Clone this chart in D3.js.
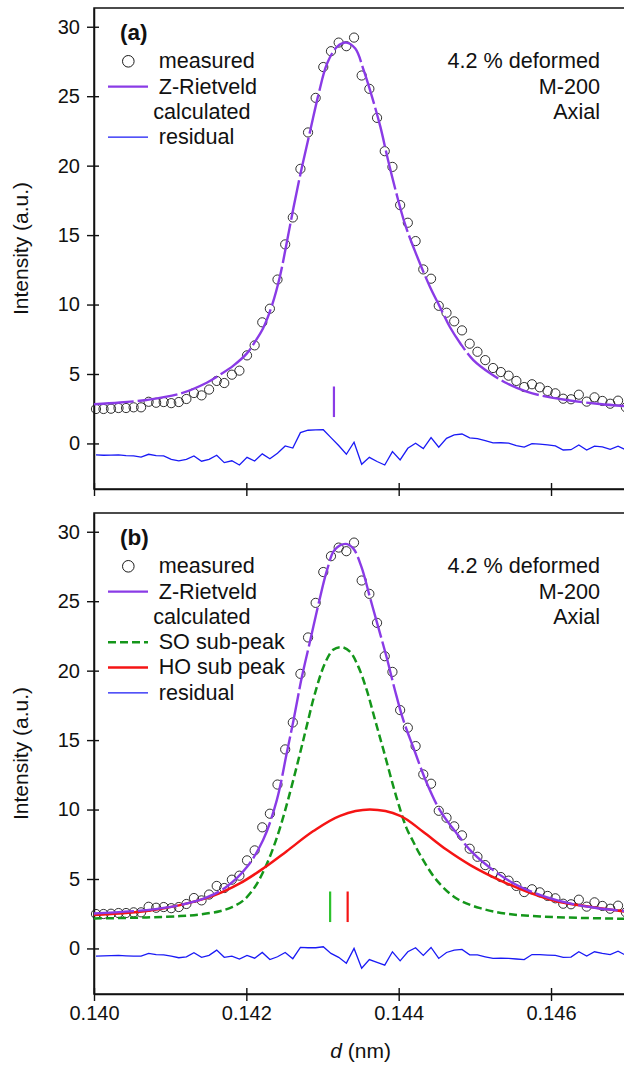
<!DOCTYPE html>
<html>
<head>
<meta charset="utf-8">
<script src="https://cdn.jsdelivr.net/npm/d3@7"></script>
<style>
  html, body { margin: 0; padding: 0; background: #fff; }
  svg { display: block; font-family: "Liberation Sans", Arial, Helvetica, sans-serif; }
</style>
</head>
<body>
<svg id="chart" width="624" height="1067"></svg>
<script>
// ---- Data -------------------------------------------------------------
// d-spacing (nm) of each measured time-of-flight bin
const dGrid = [
  0.140026, 0.140125, 0.140223, 0.140322, 0.140421, 0.140520, 0.140618, 0.140717, 0.140816, 0.140915,
  0.141014, 0.141113, 0.141213, 0.141312, 0.141412, 0.141511, 0.141611, 0.141710, 0.141810, 0.141909,
  0.142009, 0.142109, 0.142209, 0.142309, 0.142409, 0.142510, 0.142610, 0.142710, 0.142810, 0.142910,
  0.143010, 0.143111, 0.143212, 0.143313, 0.143414, 0.143514, 0.143615, 0.143716, 0.143817, 0.143918,
  0.144019, 0.144120, 0.144222, 0.144323, 0.144425, 0.144526, 0.144628, 0.144729, 0.144831, 0.144932,
  0.145034, 0.145136, 0.145239, 0.145341, 0.145443, 0.145545, 0.145648, 0.145750, 0.145852, 0.145955,
  0.146057, 0.146160, 0.146262, 0.146365, 0.146468, 0.146571, 0.146674, 0.146777, 0.146880, 0.146983
];

// measured intensity (a.u.)
const measured = [
  2.48, 2.48, 2.50, 2.55, 2.55, 2.60, 2.60, 3.00, 2.93, 2.98,
  2.90, 2.98, 3.20, 3.63, 3.46, 3.88, 4.50, 4.35, 4.95, 5.24,
  6.34, 7.06, 8.72, 9.70, 11.80, 14.33, 16.27, 19.77, 22.39, 24.88,
  27.10, 28.24, 28.86, 28.60, 29.22, 26.49, 25.53, 23.44, 21.04, 19.91,
  17.16, 15.89, 14.57, 12.53, 11.86, 9.91, 9.41, 8.79, 8.14, 7.18,
  6.60, 6.00, 5.43, 5.14, 4.88, 4.50, 4.06, 4.26, 4.04, 3.78,
  3.61, 3.22, 3.18, 3.51, 3.01, 3.32, 3.06, 2.86, 3.08, 2.60
];

// residual of the single-peak fit (a)
const residualA = [
  -0.83, -0.85, -0.84, -0.83, -0.88, -0.90, -0.98, -0.78, -0.88, -0.90,
  -1.15, -1.25, -1.15, -0.90, -1.28, -1.15, -0.85, -1.38, -1.25, -1.55,
  -1.00, -1.27, -0.75, -1.10, -0.70, -0.18, -0.33, 0.78, 0.95, 0.98,
  0.99, 0.42, -0.15, -0.78, 0.09, -1.50, -1.00, -1.30, -1.55, -0.59,
  -1.19, -0.35, 0.01, -0.37, 0.42, -0.27, 0.37, 0.61, 0.68, 0.40,
  0.35, 0.20, 0.04, 0.05, 0.02, -0.15, -0.27, -0.01, -0.05, -0.10,
  -0.18, -0.47, -0.45, -0.11, -0.47, -0.20, -0.25, -0.42, -0.20, -0.47
];

// residual of the two-sub-peak fit (b)
const residualB = [
  -0.55, -0.53, -0.52, -0.50, -0.53, -0.55, -0.55, -0.36, -0.45, -0.47,
  -0.55, -0.67, -0.60, -0.31, -0.64, -0.50, -0.12, -0.64, -0.55, -0.77,
  -0.50, -0.70, -0.29, -0.80, -0.60, -0.29, -0.74, 0.07, 0.05, 0.05,
  0.12, -0.36, -0.64, -1.06, 0.00, -1.43, -0.80, -1.00, -1.20, -0.24,
  -0.89, -0.24, 0.05, -0.50, 0.07, -0.72, -0.29, -0.12, -0.07, -0.46,
  -0.47, -0.60, -0.72, -0.70, -0.72, -0.76, -0.80, -0.44, -0.45, -0.48,
  -0.50, -0.64, -0.62, -0.24, -0.55, -0.24, -0.35, -0.44, -0.20, -0.50
];

// Z-Rietveld calculated profile, single peak (a)
const calcDA = [
  0.14000, 0.14034, 0.14069, 0.14113, 0.14148, 0.14165, 0.14183, 0.14201, 0.14211, 0.14222,
  0.14234, 0.14244, 0.14252, 0.14262, 0.14273, 0.14284, 0.14295, 0.14306, 0.14319, 0.14331,
  0.14343, 0.14354, 0.14365, 0.14376, 0.14386, 0.14397, 0.14408, 0.14421, 0.14441, 0.14454,
  0.14467, 0.14481, 0.14498, 0.14520, 0.14542, 0.14568, 0.14594, 0.14629, 0.14664, 0.14700
];
const calcA = [
  2.82, 2.95, 3.13, 3.58, 4.37, 4.93, 5.60, 6.50, 7.30, 8.30,
  10.00, 12.00, 14.16, 17.00, 19.90, 22.55, 25.19, 27.35, 28.55, 28.86,
  28.43, 26.87, 24.95, 22.79, 20.40, 18.00, 15.84, 13.90, 11.28, 9.84,
  8.40, 7.20, 6.00, 5.05, 4.33, 3.73, 3.37, 3.06, 2.84, 2.68
];

// Z-Rietveld calculated profile, two sub-peaks (b)
const calcDB = [
  0.14000, 0.14069, 0.14113, 0.14148, 0.14174, 0.14201, 0.14222, 0.14240, 0.14253, 0.14262,
  0.14273, 0.14284, 0.14295, 0.14306, 0.14316, 0.14330, 0.14340, 0.14351, 0.14362, 0.14373,
  0.14384, 0.14395, 0.14406, 0.14419, 0.14437, 0.14454, 0.14476, 0.14498, 0.14524, 0.14551,
  0.14586, 0.14629, 0.14664, 0.14700
];
const calcB = [
  2.52, 2.76, 3.12, 3.67, 4.44, 5.88, 7.80, 10.68, 14.05, 16.45,
  19.57, 22.20, 24.86, 27.25, 28.70, 29.13, 28.82, 27.49, 25.33, 23.17,
  21.00, 18.61, 16.45, 14.50, 11.89, 9.96, 8.29, 6.84, 5.64, 4.68,
  3.84, 3.19, 2.88, 2.68
];

// SO sub-peak
const soD = [
  0.14000, 0.14069, 0.14113, 0.14139, 0.14165, 0.14182, 0.14196, 0.14211, 0.14222, 0.14233,
  0.14244, 0.14255, 0.14268, 0.14279, 0.14290, 0.14303, 0.14314, 0.14325, 0.14336, 0.14347,
  0.14358, 0.14369, 0.14380, 0.14397, 0.14410, 0.14419, 0.14428, 0.14450, 0.14476, 0.14507,
  0.14542, 0.14586, 0.14638, 0.14700
];
const soPeak = [
  2.16, 2.23, 2.33, 2.45, 2.68, 3.00, 3.45, 4.40, 5.50, 6.90,
  8.65, 10.75, 13.50, 15.95, 18.35, 20.50, 21.50, 21.69, 21.37, 20.29,
  18.61, 16.45, 14.29, 10.90, 8.70, 7.70, 6.75, 4.90, 3.60, 2.90,
  2.50, 2.30, 2.20, 2.13
];

// HO sub peak
const hoD = [
  0.14000, 0.14069, 0.14113, 0.14157, 0.14192, 0.14222, 0.14253, 0.14288, 0.14323, 0.14362,
  0.14402, 0.14432, 0.14463, 0.14494, 0.14533, 0.14568, 0.14607, 0.14651, 0.14700
];
const hoPeak = [
  2.40, 2.70, 3.12, 3.80, 4.70, 5.75, 7.00, 8.45, 9.55, 10.00,
  9.55, 8.40, 7.10, 6.00, 4.90, 4.10, 3.40, 3.00, 2.64
];

// Bragg reflection positions (nm)
const reflectionsA = [0.14315];
const reflectionsB = [0.14310, 0.14333];

const xTicks = [0.140, 0.142, 0.144, 0.146];
const yTicks = [0, 5, 10, 15, 20, 25, 30];
const sampleInfo = ["4.2 % deformed", "M-200", "Axial"];

// ---- Styles -----------------------------------------------------------
const COL = {
  calc: "#8a3be6",
  residual: "#1a1af5",
  so: "#14961a",
  soTick: "#2cc12c",
  ho: "#f51414",
  ink: "#111"
};
const FONT_TICK = 20;
const FONT_TEXT = 21.6;

// ---- Layout & scales --------------------------------------------------
const svg = d3.select("#chart");
const x = d3.scaleLinear().domain([0.140, 0.147]).range([94, 627.2]);
const yDomain = [-3.28, 31.35];

const panels = [
  {
    tag: "(a)", top: 8, bottom: 489, showXLabels: false,
    calcD: calcDA, calc: calcA, residual: residualA,
    reflections: reflectionsA.map(d => ({ d, color: COL.calc })),
    subPeaks: [],
    legend: [
      { type: "circle", label: "measured" },
      { type: "line", color: COL.calc, width: 2.4, label: "Z-Rietveld" },
      { type: "none", label: "calculated" },
      { type: "line", color: COL.residual, width: 1.3, label: "residual" }
    ]
  },
  {
    tag: "(b)", top: 513, bottom: 994, showXLabels: true,
    calcD: calcDB, calc: calcB, residual: residualB,
    reflections: [
      { d: reflectionsB[0], color: COL.soTick },
      { d: reflectionsB[1], color: COL.ho }
    ],
    subPeaks: [
      { d: soD, v: soPeak, color: COL.so, dash: "8,4" },
      { d: hoD, v: hoPeak, color: COL.ho, dash: null }
    ],
    legend: [
      { type: "circle", label: "measured" },
      { type: "line", color: COL.calc, width: 2.4, label: "Z-Rietveld" },
      { type: "none", label: "calculated" },
      { type: "line", color: COL.so, width: 2.4, dash: "8,4", label: "SO sub-peak" },
      { type: "line", color: COL.ho, width: 2.4, label: "HO sub peak" },
      { type: "line", color: COL.residual, width: 1.3, label: "residual" }
    ]
  }
];

panels.forEach(p => drawPanel(p));

function drawPanel(p) {
  const g = svg.append("g");
  const y = d3.scaleLinear().domain(yDomain).range([p.bottom, p.top]);

  // frame
  g.append("rect")
    .attr("x", x(0.140)).attr("y", p.top)
    .attr("width", x(0.147) - x(0.140)).attr("height", p.bottom - p.top)
    .attr("fill", "none").attr("stroke", COL.ink).attr("stroke-width", 1.5);

  // y axis, ticks crossing the spine
  const yAxis = g.append("g")
    .attr("transform", `translate(${x(0.140)},0)`)
    .call(d3.axisLeft(y).tickValues(yTicks).tickSize(7).tickSizeOuter(0)
      .tickPadding(7).tickFormat(d3.format("d")));
  yAxis.select(".domain").attr("stroke", COL.ink).attr("stroke-width", 1.5);
  yAxis.selectAll(".tick line").attr("x1", 5).attr("x2", -7)
    .attr("stroke", COL.ink).attr("stroke-width", 1.4);
  yAxis.selectAll(".tick text")
    .attr("font-size", FONT_TICK).attr("font-family", "Liberation Sans, Arial, sans-serif")
    .attr("fill", COL.ink);

  // x axis
  const xAxis = g.append("g")
    .attr("transform", `translate(0,${p.bottom})`)
    .call(d3.axisBottom(x).tickValues(xTicks).tickSize(7).tickSizeOuter(0)
      .tickPadding(5).tickFormat(p.showXLabels ? d3.format(".3f") : () => ""));
  xAxis.select(".domain").attr("stroke", COL.ink).attr("stroke-width", 1.5);
  xAxis.selectAll(".tick line").attr("y1", -6).attr("y2", 7)
    .attr("stroke", COL.ink).attr("stroke-width", 1.4);
  xAxis.selectAll(".tick text")
    .attr("font-size", FONT_TICK).attr("font-family", "Liberation Sans, Arial, sans-serif")
    .attr("fill", COL.ink);

  // y axis title
  g.append("text")
    .attr("transform", `translate(28,${(p.top + p.bottom) / 2}) rotate(-90)`)
    .attr("text-anchor", "middle")
    .attr("font-size", 21).attr("fill", COL.ink)
    .text("Intensity (a.u.)");

  const plot = g.append("g");

  // measured points
  plot.selectAll("circle.meas")
    .data(dGrid.map((d, i) => ({ d, v: measured[i] })))
    .join("circle")
    .attr("class", "meas")
    .attr("cx", q => x(q.d)).attr("cy", q => y(q.v)).attr("r", 4.6)
    .attr("fill", "none").attr("stroke", "#1a1a1a").attr("stroke-width", 0.9);

  const smooth = d3.line().x(q => x(q.d)).y(q => y(q.v)).curve(d3.curveCatmullRom.alpha(0.5));

  // sub-peaks
  p.subPeaks.forEach(s => {
    plot.append("path")
      .datum(s.d.map((d, i) => ({ d, v: s.v[i] })))
      .attr("d", smooth)
      .attr("fill", "none").attr("stroke", s.color).attr("stroke-width", 2.5)
      .attr("stroke-dasharray", s.dash);
  });

  // calculated profile
  plot.append("path")
    .datum(p.calcD.map((d, i) => ({ d, v: p.calc[i] })))
    .attr("d", smooth)
    .attr("fill", "none").attr("stroke", COL.calc).attr("stroke-width", 2.4)
    .attr("stroke-dasharray", "40,4");

  // residual
  plot.append("path")
    .datum(dGrid.map((d, i) => ({ d, v: p.residual[i] })))
    .attr("d", d3.line().x(q => x(q.d)).y(q => y(q.v)))
    .attr("fill", "none").attr("stroke", COL.residual).attr("stroke-width", 1.3)
    .attr("stroke-linejoin", "miter");

  // reflection markers
  plot.selectAll("line.refl")
    .data(p.reflections)
    .join("line")
    .attr("class", "refl")
    .attr("x1", r => x(r.d)).attr("x2", r => x(r.d))
    .attr("y1", y(1.9)).attr("y2", y(4.1))
    .attr("stroke", r => r.color).attr("stroke-width", 2.2);

  // panel tag
  g.append("text")
    .attr("x", 120).attr("y", p.top + 32)
    .attr("font-size", 22.5).attr("font-weight", "bold").attr("fill", COL.ink)
    .text(p.tag);

  // legend
  const rowH = 25.3;
  const lg = g.append("g").attr("transform", `translate(0,${p.top + 60.3})`);
  p.legend.forEach((e, i) => {
    const by = i * rowH;
    const midY = by - 7;
    if (e.type === "circle") {
      lg.append("circle").attr("cx", 128.3).attr("cy", midY).attr("r", 5.8)
        .attr("fill", "none").attr("stroke", "#1a1a1a").attr("stroke-width", 1);
    } else if (e.type === "line") {
      lg.append("line").attr("x1", 108).attr("x2", 148).attr("y1", midY).attr("y2", midY)
        .attr("stroke", e.color).attr("stroke-width", e.width)
        .attr("stroke-dasharray", e.dash || null);
    }
    lg.append("text")
      .attr("x", e.type === "none" ? 153.3 : 158.7).attr("y", by)
      .attr("font-size", FONT_TEXT).attr("fill", COL.ink)
      .text(e.label);
  });

  // sample annotation
  g.append("g").selectAll("text")
    .data(sampleInfo)
    .join("text")
    .attr("x", 600).attr("y", (t, i) => p.top + 60.3 + i * rowH)
    .attr("text-anchor", "end")
    .attr("font-size", FONT_TEXT).attr("fill", COL.ink)
    .text(t => t);
}

// x axis title
const xTitle = svg.append("text")
  .attr("x", (x(0.140) + x(0.147)) / 2).attr("y", 1058)
  .attr("text-anchor", "middle").attr("font-size", 21).attr("fill", COL.ink);
xTitle.append("tspan").attr("font-style", "italic").text("d");
xTitle.append("tspan").text(" (nm)");
</script>
</body>
</html>
